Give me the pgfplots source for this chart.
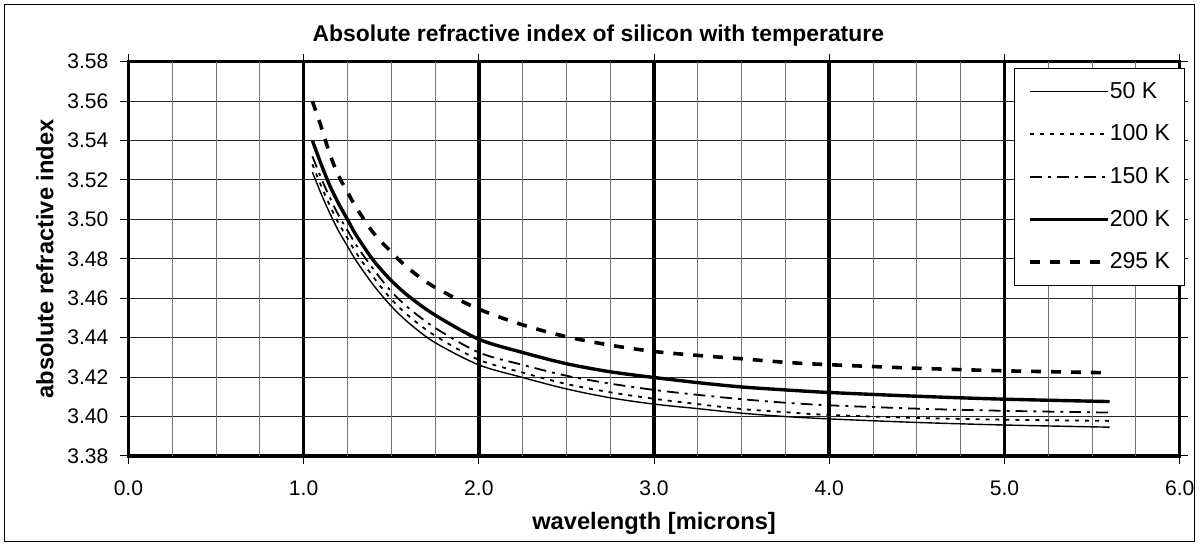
\documentclass[border=0pt]{standalone}
\usepackage{fontspec}
\setmainfont{Liberation Sans}
\usepackage{pgfplots}
\usepackage{pgfplotstable}
\pgfplotsset{compat=1.18}

\pgfplotstableread{
x      n
1.05   3.5240
1.10   3.5130
1.15   3.5030
1.20   3.4940
1.25   3.4865
1.30   3.4790
1.40   3.4665
1.50   3.4560
1.60   3.4475
1.75   3.4375
2.00   3.4262
2.25   3.4198
2.50   3.4140
2.75   3.4095
3.00   3.4063
3.25   3.4040
3.50   3.4017
3.75   3.4000
4.00   3.3988
4.50   3.3970
5.00   3.3957
5.60   3.3946
}\tA

\pgfplotstableread{
x      n
1.05   3.5280
1.10   3.5170
1.15   3.5070
1.20   3.4980
1.25   3.4905
1.30   3.4830
1.40   3.4705
1.50   3.4595
1.60   3.4510
1.75   3.4410
2.00   3.4288
2.25   3.4223
2.50   3.4165
2.75   3.4123
3.00   3.4090
3.25   3.4063
3.50   3.4038
3.75   3.4022
4.00   3.4008
4.50   3.3993
5.00   3.3984
5.60   3.3978
}\tB

\pgfplotstableread{
x      n
1.05   3.5320
1.10   3.5210
1.15   3.5110
1.20   3.5020
1.25   3.4945
1.30   3.4870
1.40   3.4745
1.50   3.4635
1.60   3.4550
1.75   3.4450
2.00   3.4325
2.25   3.4262
2.50   3.4207
2.75   3.4167
3.00   3.4135
3.25   3.4110
3.50   3.4088
3.75   3.4070
4.00   3.4057
4.50   3.4040
5.00   3.4029
5.60   3.4020
}\tC

\pgfplotstableread{
x      n
1.05   3.5400
1.10   3.5280
1.15   3.5170
1.20   3.5080
1.25   3.5000
1.30   3.4920
1.40   3.4790
1.50   3.4690
1.60   3.4610
1.75   3.4515
2.00   3.4392
2.25   3.4325
2.50   3.4268
2.75   3.4227
3.00   3.4198
3.25   3.4172
3.50   3.4150
3.75   3.4135
4.00   3.4122
4.50   3.4103
5.00   3.4088
5.60   3.4076
}\tD

\pgfplotstableread{
x      n
1.05   3.5600
1.10   3.5470
1.15   3.5330
1.20   3.5220
1.25   3.5140
1.30   3.5060
1.40   3.4930
1.50   3.4835
1.60   3.4750
1.75   3.4655
2.00   3.4545
2.25   3.4465
2.50   3.4405
2.75   3.4362
3.00   3.4330
3.25   3.4310
3.50   3.4293
3.75   3.4275
4.00   3.4263
4.50   3.4245
5.00   3.4232
5.60   3.4222
}\tE

\begin{document}
\begin{tikzpicture}
\begin{axis}[
  scale only axis,
  width=528pt, height=198pt,
  xmin=0, xmax=6, ymin=3.38, ymax=3.58,
  clip=false,
  font=\fontsize{10.6}{12.7}\selectfont,
  /pgf/number format/assume math mode=true,
  axis line style={line width=1.7pt},
  tick align=outside,
  major tick length=4pt,
  tick style={black, line width=0.5pt},
  xtick={0,1,2,3,4,5,6},
  xticklabel style={yshift=-5pt, /pgf/number format/.cd, fixed, fixed zerofill, precision=1},
  ytick={3.38,3.40,3.42,3.44,3.46,3.48,3.50,3.52,3.54,3.56,3.58},
  yticklabel style={xshift=-2.5pt, /pgf/number format/.cd, fixed, fixed zerofill, precision=2},
  xmajorgrids, ymajorgrids,
  x grid style={black, line width=1.8pt},
  y grid style={black!85, line width=0.5pt},
  extra x ticks={0.25,0.5,0.75,1.25,1.5,1.75,2.25,2.5,2.75,3.25,3.5,3.75,4.25,4.5,4.75,5.25,5.5,5.75},
  extra x tick labels={},
  extra x tick style={grid=major, x grid style={black!55, line width=0.5pt}, major tick length=0pt},
  legend style={at={(0.8425,0.985)}, anchor=north west, draw=black, line width=0.5pt, fill=white,
    inner xsep=7pt, inner ysep=7pt, row sep=11.8pt,
    font=\fontsize{11.6}{13.5}\selectfont,
    nodes={inner sep=0pt}},
  legend cell align=left,
  legend image code/.code={\draw[#1, line cap=butt] (0pt,0pt) -- (39pt,0pt);},
]
\addplot[black, line width=0.7pt, smooth, tension=0.5] table[x=x,y=n]{\tA};
\addlegendentry{50 K}
\addplot[black, line width=0.9pt, dash pattern=on 2pt off 3pt, smooth, tension=0.5] table[x=x,y=n]{\tB};
\addlegendentry{100 K}
\addplot[black, line width=0.9pt, dash pattern=on 6pt off 3pt on 1.5pt off 3pt, smooth, tension=0.5] table[x=x,y=n]{\tC};
\addlegendentry{150 K}
\addplot[black, line width=1.7pt, smooth, tension=0.5] table[x=x,y=n]{\tD};
\addlegendentry{200 K}
\addplot[black, line width=1.8pt, dash pattern=on 5pt off 5pt, smooth, tension=0.5] table[x=x,y=n]{\tE};
\addlegendentry{295 K}

\node[font=\fontsize{11.5}{13.5}\selectfont\bfseries] at (rel axis cs:0.447,1.0657) {Absolute refractive index of silicon with temperature};
\node[font=\fontsize{11.9}{14}\selectfont\bfseries] at (rel axis cs:0.5,-0.172) {wavelength [microns]};
\node[font=\fontsize{11.9}{14}\selectfont\bfseries, rotate=90] at (rel axis cs:-0.0795,0.5) {absolute refractive index};
\draw[line width=0.5pt] (rel axis cs:-0.11742,-0.21717) rectangle (rel axis cs:1.01373,1.14394);
\path (rel axis cs:-0.12216,-0.22222) rectangle (rel axis cs:1.01515,1.15657);
\end{axis}
\end{tikzpicture}
\end{document}
